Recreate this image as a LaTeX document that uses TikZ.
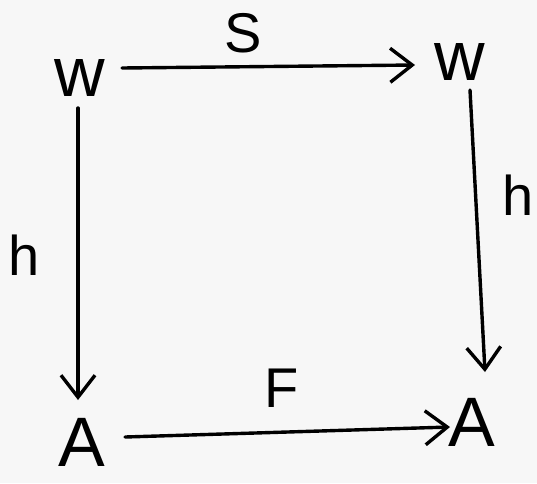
\documentclass[tikz,border=0pt]{standalone}
\usepackage{fontspec}
\setmainfont{Liberation Sans}
\usetikzlibrary{arrows.meta}
\begin{document}
\begin{tikzpicture}[x=1pt,y=-1pt,
  obj/.style={font=\fontsize{70}{70}\selectfont, inner sep=1pt},
  lab/.style={font=\fontsize{56}{56}\selectfont, inner sep=1pt},
  arr/.style={line width=3.4pt, line cap=round, -{Straight Barb[length=22pt,width=34pt,line width=3.4pt]}}]
\fill[gray!6] (0,0) rectangle (537,483);
\useasboundingbox (0,0) rectangle (537,483);
\node[obj] (w1) at (80,78) {w};
\node[obj] (w2) at (460,62) {w};
\node[obj] (a1) at (82,442) {A};
\node[obj] (a2) at (472,422) {A};
\coordinate (t1) at (122,68);
\coordinate (t2) at (415,65);
\coordinate (l1) at (78,108);
\coordinate (l2) at (78,400);
\coordinate (r1) at (470,90);
\coordinate (r2) at (485,372);
\coordinate (b1) at (125,437);
\coordinate (b2) at (450,427);
\draw[arr] (t1) -- (t2);
\draw[arr] (l1) -- (l2);
\draw[arr] (r1) -- (r2);
\draw[arr] (b1) -- (b2);
\node[lab] (s) at (243,33) {S};
\node[lab] (hl) at (24,255) {h};
\node[lab] (hr) at (518,195) {h};
\node[lab] (f) at (282,388) {F};
\end{tikzpicture}
\end{document}
